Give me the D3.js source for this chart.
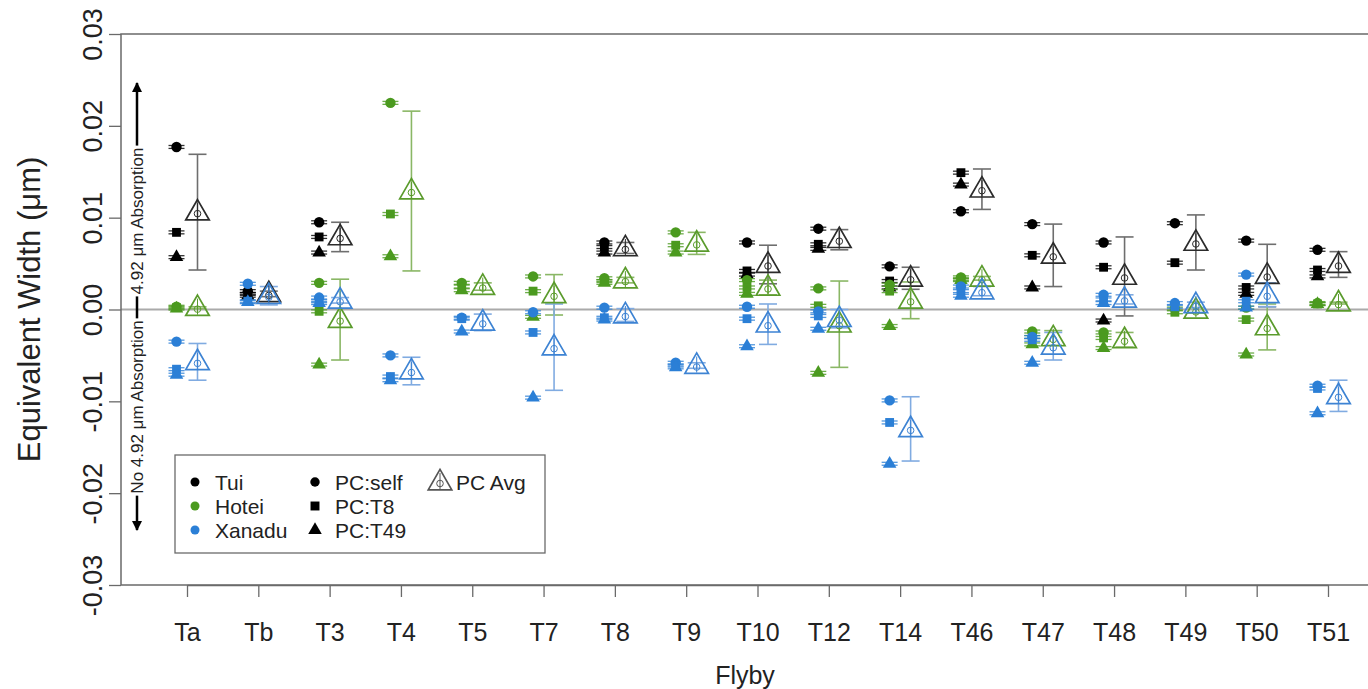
<!DOCTYPE html>
<html>
<head>
<meta charset="utf-8">
<script src="https://cdn.jsdelivr.net/npm/d3@7"></script>
<style>
  body { margin: 0; background: #fff; }
  svg { display: block; font-family: "Liberation Sans", Arial, sans-serif; }
</style>
</head>
<body>
<div id="chart"></div>
<script>
// flybys on the x axis
const flybys = ["Ta","Tb","T3","T4","T5","T7","T8","T9","T10","T12","T14","T46","T47","T48","T49","T50","T51"];
const yTicks = [-0.03, -0.02, -0.01, 0, 0.01, 0.02, 0.03];

// per region: [PC:self, PC:T8, PC:T49] for each flyby (null = no data)
const tuiPC = [
  [0.0177, 0.0084, 0.0057], [0.0020, 0.0017, 0.0015], [0.0095, 0.0079, 0.0062], null, null, null,
  [0.0073, 0.0068, 0.0062], null, [0.0073, 0.0042, 0.0038], [0.0088, 0.0071, 0.0066],
  [0.0047, 0.0031, 0.0024], [0.0107, 0.0149, 0.0136], [0.0093, 0.0059, 0.0024], [0.0073, 0.0046, -0.0012],
  [0.0094, 0.0051, null], [0.0075, 0.0024, 0.0017], [0.0065, 0.0043, 0.0036]
];
const hoteiPC = [
  [0.0003, 0.0002, 0.0001], null, [0.0029, -0.0002, -0.0060], [0.0225, 0.0104, 0.0058],
  [0.0029, 0.0025, 0.0021], [0.0036, 0.0020, -0.0008], [0.0034, 0.0031, 0.0029], [0.0084, 0.0070, 0.0062],
  [0.0032, 0.0024, 0.0017], [0.0023, 0.0004, -0.0069], [0.0027, 0.0020, -0.0018], [0.0035, 0.0033, 0.0032],
  [-0.0024, -0.0030, -0.0038], [-0.0025, -0.0031, -0.0042], [0.0001, -0.0003, null],
  [0.0002, -0.0011, -0.0049], [0.0007, 0.0006, 0.0006]
];
const xanaduPC = [
  [-0.0035, -0.0065, -0.0071], [0.0028, 0.0009, 0.0008], [0.0013, 0.0009, 0.0007], [-0.0050, -0.0073, -0.0077],
  [-0.0009, -0.0010, -0.0024], [-0.0003, -0.0025, -0.0096], [0.0002, -0.0009, -0.0011], [-0.0058, -0.0061, -0.0063],
  [0.0003, -0.0010, -0.0040], [-0.0002, -0.0007, -0.0021], [-0.0099, -0.0123, -0.0168], [0.0025, 0.0020, 0.0015],
  [-0.0030, -0.0033, -0.0058], [0.0016, 0.0011, 0.0007], [0.0007, 0.0003, null],
  [0.0038, 0.0009, 0.0002], [-0.0083, -0.0086, -0.0113]
];

// PC average and its standard deviation
const tuiAvg = [0.0106, 0.0017, 0.0079, null, null, null, 0.0067, null, 0.0049, 0.0076, 0.0034, 0.0131, 0.0059, 0.0036, 0.0073, 0.0037, 0.0049];
const tuiSd  = [0.0063, 0.0003, 0.0016, null, null, null, 0.0006, null, 0.0021, 0.0011, 0.0012, 0.0022, 0.0034, 0.0043, 0.0030, 0.0034, 0.0014];
const hoteiAvg = [0.0002, null, -0.0011, 0.0129, 0.0025, 0.0016, 0.0032, 0.0072, 0.0024, -0.0016, 0.0010, 0.0034, -0.0031, -0.0033, -0.0001, -0.0019, 0.0007];
const hoteiSd  = [0.0001, null, 0.0044, 0.0087, 0.0004, 0.0022, 0.0003, 0.0012, 0.0008, 0.0047, 0.0020, 0.0002, 0.0008, 0.0008, 0.0003, 0.0025, 0.0001];
const xanaduAvg = [-0.0057, 0.0015, 0.0010, -0.0067, -0.0014, -0.0041, -0.0006, -0.0061, -0.0016, -0.0010, -0.0130, 0.0020, -0.0040, 0.0011, 0.0005, 0.0016, -0.0094];
const xanaduSd  = [0.0020, 0.0010, 0.0003, 0.0015, 0.0009, 0.0047, 0.0007, 0.0003, 0.0022, 0.0010, 0.0035, 0.0005, 0.0015, 0.0005, 0.0003, 0.0013, 0.0017];

const pointErr = 0.00016;

const regions = [
  { name: "Tui", pc: tuiPC, avg: tuiAvg, sd: tuiSd, color: "#000000", tri: "#2b2b2b", bar: "#6e6e6e" },
  { name: "Hotei", pc: hoteiPC, avg: hoteiAvg, sd: hoteiSd, color: "#4b9a1f", tri: "#5a9b2c", bar: "#8ab765" },
  { name: "Xanadu", pc: xanaduPC, avg: xanaduAvg, sd: xanaduSd, color: "#2b7fd6", tri: "#3d83d3", bar: "#80abe1" }
];

const width = 1368, height = 689;
const svg = d3.select("#chart").append("svg").attr("width", width).attr("height", height);

const x = d3.scalePoint().domain(flybys).range([187, 1328]);
const y = d3.scaleLinear().domain([-0.03, 0.03]).range([585, 34]);
const plotLeft = 121, plotTop = 34, plotBottom = 585;

// zero line
svg.append("line")
  .attr("x1", plotLeft).attr("x2", width).attr("y1", y(0)).attr("y2", y(0))
  .attr("stroke", "#aaaaaa").attr("stroke-width", 2);

// plot box (right side runs off the page)
svg.append("rect")
  .attr("x", plotLeft).attr("y", plotTop).attr("width", width + 10 - plotLeft).attr("height", plotBottom - plotTop)
  .attr("fill", "none").attr("stroke", "#6a6a6a").attr("stroke-width", 1.5);

// y axis
const yAxis = svg.append("g").attr("transform", `translate(${plotLeft},0)`)
  .call(d3.axisLeft(y).tickValues(yTicks).tickSize(12).tickSizeOuter(0).tickFormat(d => d.toFixed(2)));
yAxis.select(".domain").remove();
yAxis.selectAll("line").attr("stroke", "#6a6a6a").attr("stroke-width", 1.3);
yAxis.selectAll("text")
  .attr("x", null).attr("dy", null)
  .attr("transform", "translate(-19,0) rotate(-90)")
  .attr("text-anchor", "middle")
  .attr("fill", "#222").style("font-size", "27px").style("font-family", "Liberation Sans, Arial, sans-serif");

// x axis
const xAxis = svg.append("g").attr("transform", `translate(0,${plotBottom})`)
  .call(d3.axisBottom(x).tickSize(12).tickSizeOuter(0));
xAxis.select(".domain").attr("stroke", "#6a6a6a").attr("stroke-width", 1.5);
xAxis.selectAll("line").attr("stroke", "#6a6a6a").attr("stroke-width", 1.3);
xAxis.selectAll("text")
  .attr("y", 56).attr("dy", null)
  .attr("fill", "#222").style("font-size", "25px").style("font-family", "Liberation Sans, Arial, sans-serif");

// axis titles
svg.append("text")
  .attr("transform", `translate(40,${y(0)}) rotate(-90)`)
  .attr("text-anchor", "middle")
  .style("font-size", "31px").attr("fill", "#222")
  .text("Equivalent Width (\u03bcm)");

svg.append("text")
  .attr("x", 745).attr("y", 684)
  .attr("text-anchor", "middle")
  .style("font-size", "25px").attr("fill", "#222")
  .text("Flyby");

// absorption annotation arrow
const ax = 137;
const defs = svg.append("defs");
defs.append("marker").attr("id", "head").attr("viewBox", "0 0 10 10")
  .attr("refX", 9).attr("refY", 5).attr("markerWidth", 4.2).attr("markerHeight", 4.2)
  .attr("orient", "auto-start-reverse")
  .append("path").attr("d", "M0,0L10,5L0,10Z").attr("fill", "#000");
svg.append("line")
  .attr("x1", ax).attr("x2", ax).attr("y1", 530).attr("y2", 83)
  .attr("stroke", "#000").attr("stroke-width", 2.5)
  .attr("marker-start", "url(#head)").attr("marker-end", "url(#head)");

const annot = [
  { text: "4.92 \u03bcm Absorption", cy: 221 },
  { text: "No 4.92 \u03bcm Absorption", cy: 407 }
];
annot.forEach(a => {
  const g = svg.append("g").attr("transform", `translate(${ax},${a.cy}) rotate(-90)`);
  const t = g.append("text")
    .attr("text-anchor", "middle").attr("dy", "0.35em")
    .style("font-size", "17px").attr("fill", "#222")
    .text(a.text);
  const bb = t.node().getBBox();
  g.insert("rect", "text")
    .attr("x", bb.x - 2).attr("y", bb.y).attr("width", bb.width + 4).attr("height", bb.height)
    .attr("fill", "#fff");
});

const off = 10.5;
const tri = d3.symbol().type(d3.symbolTriangle);
const pcSymbols = [d3.symbolCircle, d3.symbolSquare, d3.symbolTriangle];
const pcSizes = [85, 78, 80];

// averages: error bars first
regions.forEach(r => {
  const g = svg.append("g");
  flybys.forEach((f, i) => {
    if (r.avg[i] == null) return;
    const cx = x(f) + off;
    const lo = y(r.avg[i] - r.sd[i]), hi = y(r.avg[i] + r.sd[i]);
    g.append("line").attr("x1", cx).attr("x2", cx).attr("y1", lo).attr("y2", hi)
      .attr("stroke", r.bar).attr("stroke-width", 1.6);
    [lo, hi].forEach(yy => g.append("line")
      .attr("x1", cx - 9).attr("x2", cx + 9).attr("y1", yy).attr("y2", yy)
      .attr("stroke", r.bar).attr("stroke-width", 1.6));
  });
});

// individual PC points with their small error caps
regions.forEach(r => {
  const g = svg.append("g");
  flybys.forEach((f, i) => {
    const vals = r.pc[i];
    if (!vals) return;
    const cx = x(f) - off;
    vals.forEach((v, k) => {
      if (v == null) return;
      [v - pointErr, v + pointErr].forEach(e => g.append("line")
        .attr("x1", cx - 8).attr("x2", cx + 8).attr("y1", y(e)).attr("y2", y(e))
        .attr("stroke", r.color).attr("stroke-width", 1.3).attr("opacity", 0.8));
      g.append("path")
        .attr("d", d3.symbol().type(pcSymbols[k]).size(pcSizes[k])())
        .attr("transform", `translate(${cx},${y(v)})`)
        .attr("fill", r.color);
    });
  });
});

// PC average triangles
function avgMarker(g, cx, cy, color) {
  g.append("path").attr("d", tri.size(240)())
    .attr("transform", `translate(${cx},${cy + 1})`)
    .attr("fill", "none").attr("stroke", color).attr("stroke-width", 1.7);
  g.append("line").attr("x1", cx).attr("x2", cx).attr("y1", cy - 9).attr("y2", cy + 7)
    .attr("stroke", color).attr("stroke-width", 1);
  g.append("circle").attr("cx", cx).attr("cy", cy + 1.5).attr("r", 3.3)
    .attr("fill", "none").attr("stroke", color).attr("stroke-width", 1);
}
regions.forEach(r => {
  const g = svg.append("g");
  flybys.forEach((f, i) => {
    if (r.avg[i] == null) return;
    avgMarker(g, x(f) + off, y(r.avg[i]), r.tri);
  });
});

// legend
const lg = svg.append("g");
lg.append("rect").attr("x", 175).attr("y", 455).attr("width", 370).attr("height", 98)
  .attr("fill", "#fff").attr("stroke", "#6a6a6a").attr("stroke-width", 1.3);
const rowY = [482, 506, 530];
regions.forEach((r, k) => {
  lg.append("circle").attr("cx", 195).attr("cy", rowY[k]).attr("r", 4.5).attr("fill", r.color);
  lg.append("text").attr("x", 215).attr("y", rowY[k]).attr("dy", "0.36em")
    .style("font-size", "21px").attr("fill", "#222").text(r.name);
});
["PC:self", "PC:T8", "PC:T49"].forEach((lab, k) => {
  lg.append("path").attr("d", d3.symbol().type(pcSymbols[k]).size([70, 80, 80][k])())
    .attr("transform", `translate(315,${rowY[k]})`).attr("fill", "#000");
  lg.append("text").attr("x", 335).attr("y", rowY[k]).attr("dy", "0.36em")
    .style("font-size", "21px").attr("fill", "#222").text(lab);
});
avgMarker(lg, 440, rowY[0], "#555");
lg.append("text").attr("x", 456).attr("y", rowY[0]).attr("dy", "0.36em")
  .style("font-size", "21px").attr("fill", "#222").text("PC Avg");
</script>
</body>
</html>
